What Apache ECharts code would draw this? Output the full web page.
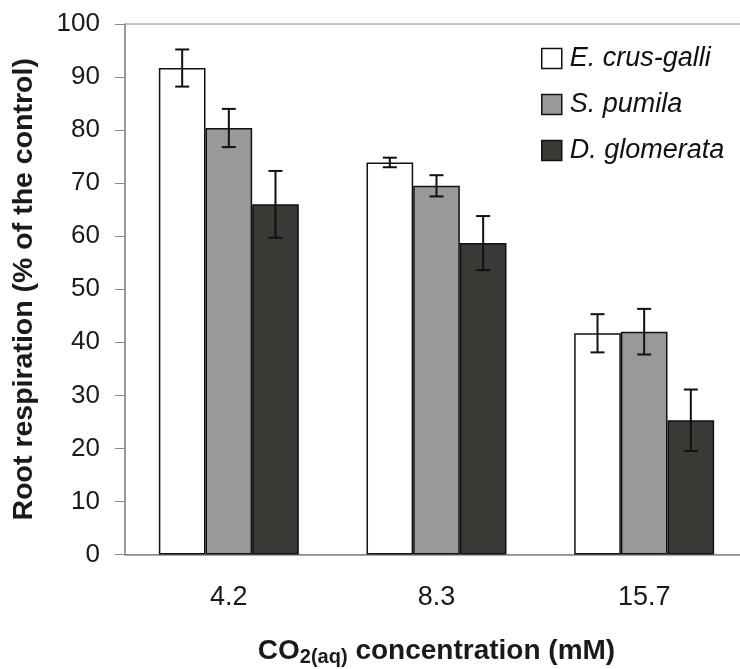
<!DOCTYPE html>
<html>
<head>
<meta charset="utf-8">
<script src="https://cdn.jsdelivr.net/npm/echarts@6/dist/echarts.min.js"></script>
<style>
html, body { margin: 0; padding: 0; background: #fff; }
#main { width: 740px; height: 669px; }
</style>
</head>
<body>
<div id="main"></div>
<script>
var categories = ['4.2', '8.3', '15.7'];
var seriesNames = ['E. crus-galli', 'S. pumila', 'D. glomerata'];
var crusGalli = [91.7, 73.9, 41.7];
var crusGalliErr = [3.5, 0.9, 3.6];
var pumila = [80.4, 69.5, 42.0];
var pumilaErr = [3.6, 2.0, 4.3];
var glomerata = [66.0, 58.7, 25.3];
var glomerataErr = [6.3, 5.1, 5.8];
var yTicks = [0, 100, 10];

var myChart = echarts.init(document.getElementById('main'));
var fontName = 'Liberation Sans';
var catGap = 0.326; // barCategoryGap
var colors = ['#ffffff', '#979a96', '#383a36'];

// 误差线
function errRender(k) {
	return function(params, api) {
		var x = api.value(0), v = api.value(1), e = api.value(2);
		var top = api.coord([x, v + e]);
		var bot = api.coord([x, v - e]);
		var band = api.size([1, 0])[0];
		var bw = band * (1 - catGap) / 3;
		var cx = top[0] + (k - 1) * bw;
		var half = 7;
		var st = { stroke: '#111', lineWidth: 2 };
		return {
			type: 'group',
			children: [
				{ type: 'line', shape: { x1: cx, y1: top[1], x2: cx, y2: bot[1] }, style: st },
				{ type: 'line', shape: { x1: cx - half, y1: top[1], x2: cx + half, y2: top[1] }, style: st },
				{ type: 'line', shape: { x1: cx - half, y1: bot[1], x2: cx + half, y2: bot[1] }, style: st }
			]
		};
	};
}

function errData(vals, errs) {
	return vals.map(function(v, i) { return [i, v, errs[i]]; });
}

var values = [crusGalli, pumila, glomerata];
var errs = [crusGalliErr, pumilaErr, glomerataErr];
var series = [];
for (var k = 0; k < 3; k++) {
	series.push({
		name: seriesNames[k],
		type: 'bar',
		data: values[k],
		barGap: '0%',
		barCategoryGap: (catGap * 100) + '%',
		itemStyle: { color: colors[k], borderColor: '#111', borderWidth: 1.5 },
		animation: false
	});
}
for (var k = 0; k < 3; k++) {
	series.push({
		type: 'custom',
		renderItem: errRender(k),
		data: errData(values[k], errs[k]),
		encode: { x: 0, y: 1 },
		z: 5,
		animation: false
	});
}

var option = {
	backgroundColor: '#fff',
	textStyle: { fontFamily: fontName },
	grid: {
		left: 125, width: 623, top: 24, height: 530.5,
		outerBoundsMode: 'none',
		containLabel: false,
		show: true, borderColor: '#8a8a8a', borderWidth: 1
	},
	legend: {
		data: seriesNames,
		orient: 'vertical',
		left: 541, top: 45, padding: 0,
		itemWidth: 20, itemHeight: 20, itemGap: 19,
		icon: 'rect',
		itemStyle: { borderColor: '#111', borderWidth: 1.5 },
		textStyle: { fontFamily: fontName, fontSize: 27, fontStyle: 'italic', color: '#111', padding: [0, 0, 0, 3] }
	},
	xAxis: {
		type: 'category',
		data: categories,
		axisLine: { lineStyle: { color: '#8a8a8a', width: 1.5 } },
		axisTick: { length: 10, lineStyle: { color: '#8a8a8a' } },
		axisLabel: { fontSize: 27, color: '#1a1a1a', margin: 30, fontFamily: fontName },
		name: '{b|CO}{s|2(aq)}{b| concentration (mM)}',
		nameLocation: 'middle',
		nameGap: 82,
		nameTextStyle: {
			rich: {
				b: { fontSize: 28, fontWeight: 'bold', color: '#1a1a1a', fontFamily: fontName, lineHeight: 30 },
				s: { fontSize: 20, fontWeight: 'bold', color: '#1a1a1a', fontFamily: fontName, lineHeight: 30, padding: [12, 0, 0, 0] }
			}
		}
	},
	yAxis: {
		type: 'value',
		min: yTicks[0], max: yTicks[1], interval: yTicks[2],
		axisLine: { show: true, lineStyle: { color: '#8a8a8a', width: 1.5 } },
		axisTick: { show: true, length: 10, lineStyle: { color: '#8a8a8a' } },
		splitLine: { show: false },
		axisLabel: { fontSize: 26, color: '#1a1a1a', margin: 25, fontFamily: fontName },
		name: 'Root respiration (% of the control)',
		nameLocation: 'middle',
		nameGap: 86,
		nameTextStyle: { fontSize: 28.5, fontWeight: 'bold', color: '#1a1a1a', fontFamily: fontName }
	},
	series: series
};

myChart.setOption(option);
</script>
</body>
</html>
